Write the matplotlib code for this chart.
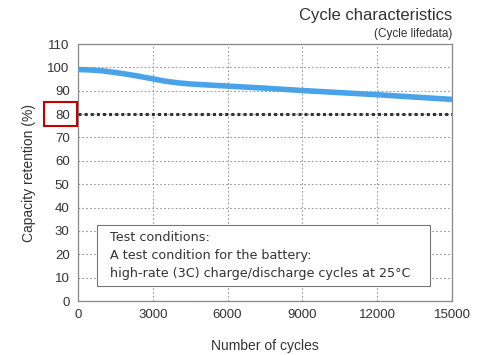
import matplotlib
matplotlib.use("Agg")
import matplotlib.pyplot as plt
from matplotlib.patches import Rectangle

plt.rcParams['font.family'] = ['Liberation Sans', 'DejaVu Sans']

cycles = [0, 500, 1000, 1500, 2000, 2500, 3000, 3500, 4000, 4500, 5000,
          6000, 7500, 9000, 10500, 12000, 13500, 15000]
retention = [99.1, 98.9, 98.5, 97.8, 97.0, 96.1, 95.1, 94.1, 93.4, 92.9, 92.6,
             92.0, 91.1, 90.1, 89.2, 88.3, 87.3, 86.3]
x_ticks = [0, 3000, 6000, 9000, 12000, 15000]
y_ticks = [0, 10, 20, 30, 40, 50, 60, 70, 80, 90, 100, 110]
limit_line = 80
note = ("Test conditions:\n"
        "A test condition for the battery:\n"
        "high-rate (3C) charge/discharge cycles at 25°C")

fig = plt.figure(figsize=(4.79, 3.55), dpi=100)
ax = fig.add_axes([0.1628, 0.152, 0.7808, 0.724])

ax.set_xlim(0, 15000)
ax.set_ylim(0, 110)
ax.set_xticks(x_ticks)
ax.set_yticks(y_ticks)
ax.tick_params(length=0, labelsize=9.5, colors='#333333', pad=6)
ax.grid(True, color='#999999', linestyle=(0, (1.5, 2)), linewidth=0.8)
for s in ax.spines.values():
    s.set_color('#888888')
    s.set_linewidth(0.9)

ax.axhline(limit_line, color='#333333', linestyle=(0, (1, 1)), linewidth=2.2, zorder=3)
ax.plot(cycles, retention, color='#4aa3e8', linewidth=4, solid_capstyle='butt', zorder=4)

# note box
ax.add_patch(Rectangle((760, 6.4), 13360, 26.1, facecolor='white',
                       edgecolor='#777777', linewidth=0.8, zorder=5))
ax.text(1280, 19.3, note, fontsize=9.2, color='#333333', va='center', ha='left',
        family=['DejaVu Sans'], zorder=6, linespacing=1.5)

ax.set_xlabel('Number of cycles', fontsize=10, color='#333333', labelpad=13)
ax.set_ylabel('Capacity retention (%)', fontsize=10, color='#333333', labelpad=8)

# red frame around the 80 label
fig.patches.append(Rectangle((44 / 479, 1 - 126 / 355), 33 / 479, 24 / 355,
                             transform=fig.transFigure, fill=False,
                             edgecolor='#c00000', linewidth=1.5))

fig.text(0.944, 0.955, 'Cycle characteristics', fontsize=12, color='#333333',
         ha='right', va='center')
fig.text(0.944, 0.905, '(Cycle lifedata)', fontsize=8.5, color='#333333',
         ha='right', va='center')

fig.savefig('out.png', dpi=100)
